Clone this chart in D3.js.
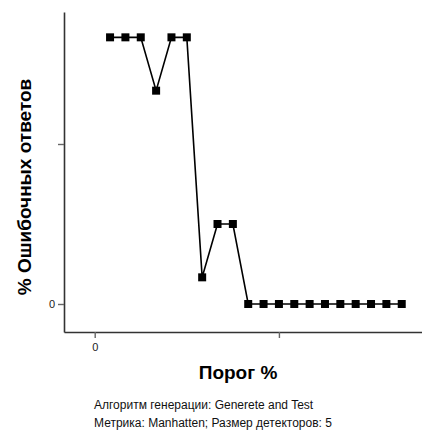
<!DOCTYPE html>
<html>
<head>
<meta charset="utf-8">
<script src="https://cdn.jsdelivr.net/npm/d3@7"></script>
<style>
  body { margin: 0; background: #fff; }
  text { font-family: "Liberation Sans", Arial, sans-serif; }
</style>
</head>
<body>
<svg id="chart" width="422" height="434"></svg>
<script>
// data
const thresholds = [5, 10, 15, 20, 25, 30, 35, 40, 45, 50, 55, 60, 65, 70, 75, 80, 85, 90, 95, 100];
const errorRates = [50, 50, 50, 40, 50, 50, 5, 15, 15, 0, 0, 0, 0, 0, 0, 0, 0, 0, 0, 0];
const xTicks = [0, 60];
const yTicks = [0, 30];
const xTitle = "Порог %";
const yTitle = "% Ошибочных ответов";
const captionLines = [
  "Алгоритм генерации: Generete and Test",
  "Метрика: Manhatten; Размер детекторов: 5"
];

const svg = d3.select("#chart");

const x = d3.scaleLinear().domain([-10, 106.6]).range([64, 422]);
const y = d3.scaleLinear().domain([-5.25, 54.75]).range([332, 12]);

const xAxis = svg.append("g")
  .attr("transform", "translate(0,332)")
  .call(d3.axisBottom(x).tickValues(xTicks).tickSizeOuter(0).tickSizeInner(6).tickPadding(5)
    .tickFormat(d => d === 0 ? "0" : ""));

const yAxis = svg.append("g")
  .attr("transform", "translate(64,0)")
  .call(d3.axisLeft(y).tickValues(yTicks).tickSizeOuter(0).tickSizeInner(6).tickPadding(3)
    .tickFormat(d => d === 0 ? "0" : ""));

[xAxis, yAxis].forEach(g => {
  g.attr("font-size", 11).attr("font-family", "'Liberation Sans', Arial, sans-serif");
  g.select(".domain").attr("stroke", "#333").attr("stroke-width", 1.6);
  g.selectAll(".tick line").attr("stroke", "#666").attr("stroke-width", 1.4);
  g.selectAll(".tick text").attr("fill", "#222");
});

const pts = thresholds.map((t, i) => [t, errorRates[i]]);

svg.append("path")
  .datum(pts)
  .attr("fill", "none")
  .attr("stroke", "#000")
  .attr("stroke-width", 1.6)
  .attr("d", d3.line().x(d => x(d[0])).y(d => y(d[1])));

const ms = 8;
svg.selectAll("rect.marker")
  .data(pts)
  .enter()
  .append("rect")
  .attr("class", "marker")
  .attr("x", d => x(d[0]) - ms / 2)
  .attr("y", d => y(d[1]) - ms / 2)
  .attr("width", ms)
  .attr("height", ms)
  .attr("fill", "#000");

svg.append("text")
  .attr("transform", "translate(31,187) rotate(-90)")
  .attr("text-anchor", "middle")
  .style("font-size", "19px")
  .style("font-weight", "bold")
  .attr("fill", "#000")
  .text(yTitle);

svg.append("text")
  .attr("x", 238)
  .attr("y", 379)
  .attr("text-anchor", "middle")
  .style("font-size", "19px")
  .style("font-weight", "bold")
  .attr("fill", "#000")
  .text(xTitle);

svg.selectAll("text.caption")
  .data(captionLines)
  .enter()
  .append("text")
  .attr("class", "caption")
  .attr("x", 94)
  .attr("y", (d, i) => 409 + i * 18)
  .style("font-size", "12px")
  .attr("fill", "#111")
  .text(d => d);
</script>
</body>
</html>
